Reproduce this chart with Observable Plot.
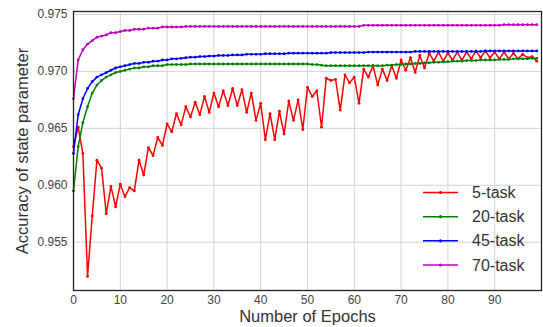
<!DOCTYPE html>
<html>
<head>
<meta charset="utf-8">
<script src="https://cdn.jsdelivr.net/npm/d3@7"></script>
<script src="https://cdn.jsdelivr.net/npm/@observablehq/plot@0.6"></script>
<style>
  html, body { margin: 0; padding: 0; background: #fff; }
  #chart svg { display: block; font-family: "Liberation Sans", Arial, sans-serif; }
</style>
</head>
<body>
<div id="chart"></div>
<script>
const seriesNames = ["5-task", "20-task", "45-task", "70-task"];
const seriesColors = ["#ff0000", "#008000", "#0000ff", "#bf00bf"];
const xTicks = [0, 10, 20, 30, 40, 50, 60, 70, 80, 90];
const yTicks = [0.955, 0.960, 0.965, 0.970, 0.975];

const task5 = [
  0.9634, 0.9651, 0.9628, 0.9520, 0.9573, 0.9622, 0.9615, 0.9575, 0.9599, 0.9581,
  0.9601, 0.9590, 0.9598, 0.9595, 0.9622, 0.9609, 0.9633, 0.9626, 0.9642, 0.9635,
  0.9654, 0.9647, 0.9663, 0.9653, 0.9669, 0.9660, 0.9673, 0.9662, 0.9678, 0.9664,
  0.9681, 0.9669, 0.9683, 0.9670, 0.9685, 0.9670, 0.9684, 0.9664, 0.9681, 0.9657,
  0.9672, 0.9640, 0.9663, 0.9640, 0.9665, 0.9645, 0.9674, 0.9657, 0.9675, 0.9649,
  0.9686, 0.9678, 0.9683, 0.9651, 0.9694, 0.9692, 0.9693, 0.9666, 0.9697, 0.9690,
  0.9695, 0.9672, 0.9702, 0.9695, 0.9705, 0.9688, 0.9702, 0.9692, 0.9705, 0.9694,
  0.9710, 0.9701, 0.9712, 0.9699, 0.9714, 0.9703, 0.9716, 0.9709, 0.9717, 0.9709,
  0.9716, 0.9710, 0.9717, 0.9710, 0.9717, 0.9711, 0.9718, 0.9712, 0.9718, 0.9712,
  0.9717, 0.9711, 0.9717, 0.9711, 0.9716, 0.9711, 0.9715, 0.9712, 0.9713, 0.9709
];
const task20 = [
  0.9595, 0.9634, 0.9655, 0.9669, 0.9681, 0.9688, 0.9692, 0.9695, 0.9697, 0.9699,
  0.9700, 0.9701, 0.9702, 0.9703, 0.9703, 0.9704, 0.9704, 0.9705, 0.9705, 0.9705,
  0.9706, 0.9706, 0.9706, 0.9706, 0.9706, 0.97065, 0.97065, 0.97065, 0.97065, 0.97065,
  0.97065, 0.97065, 0.97065, 0.97065, 0.97065, 0.97065, 0.97065, 0.97065, 0.97065, 0.97065,
  0.97065, 0.97065, 0.97065, 0.97065, 0.97065, 0.97065, 0.97065, 0.97065, 0.97065, 0.97065,
  0.97065, 0.9706, 0.9706, 0.97055, 0.9705, 0.9705, 0.9705, 0.9705, 0.9705, 0.9705,
  0.9705, 0.9705, 0.9705, 0.9705, 0.9705, 0.9705, 0.9705, 0.97055, 0.97055, 0.9706,
  0.9706, 0.97065, 0.97065, 0.9707, 0.9707, 0.97075, 0.97075, 0.9708, 0.9708, 0.97085,
  0.97085, 0.9709, 0.9709, 0.9709, 0.97095, 0.97095, 0.97095, 0.971, 0.971, 0.971,
  0.971, 0.97105, 0.97105, 0.97105, 0.9711, 0.9711, 0.9711, 0.9711, 0.97115, 0.97115
];
const task45 = [
  0.9628, 0.9662, 0.9676, 0.9685, 0.9691, 0.9695, 0.9697, 0.9699, 0.9701, 0.9703,
  0.9704, 0.9705, 0.9706, 0.9707, 0.9707, 0.9708, 0.9708, 0.9709, 0.9709, 0.9710,
  0.9710, 0.9711, 0.9711, 0.97115, 0.9712, 0.97125, 0.97125, 0.9713, 0.9713, 0.97135,
  0.97135, 0.9714, 0.9714, 0.9714, 0.97145, 0.97145, 0.97145, 0.9715, 0.9715, 0.9715,
  0.9715, 0.97155, 0.97155, 0.97155, 0.97155, 0.97155, 0.9716, 0.9716, 0.9716, 0.9716,
  0.9716, 0.9716, 0.9716, 0.9716, 0.9716, 0.97165, 0.97165, 0.97165, 0.97165, 0.97165,
  0.97165, 0.97165, 0.97165, 0.9717, 0.9717, 0.9717, 0.9717, 0.9717, 0.9717, 0.9717,
  0.9717, 0.9717, 0.9717, 0.97175, 0.97175, 0.97175, 0.97175, 0.97175, 0.97175, 0.97175,
  0.97175, 0.97175, 0.97175, 0.97175, 0.97175, 0.97175, 0.97175, 0.97175, 0.9718, 0.9718,
  0.9718, 0.9718, 0.9718, 0.9718, 0.9718, 0.9718, 0.9718, 0.9718, 0.9718, 0.9718
];
const task70 = [
  0.9676, 0.9710, 0.9719, 0.9724, 0.9727, 0.9730, 0.9731, 0.9732, 0.9734, 0.9734,
  0.9735, 0.9736, 0.9736, 0.9737, 0.9737, 0.9737, 0.9738, 0.9738, 0.9738, 0.9739,
  0.9739, 0.9739, 0.9739, 0.9739, 0.97395, 0.97395, 0.97395, 0.97395, 0.97395, 0.97395,
  0.97395, 0.97395, 0.97395, 0.97395, 0.97395, 0.97395, 0.97395, 0.97395, 0.97395, 0.97395,
  0.97395, 0.97395, 0.97395, 0.97395, 0.97395, 0.97395, 0.97395, 0.97395, 0.97395, 0.97395,
  0.97395, 0.97395, 0.97395, 0.97395, 0.97395, 0.97395, 0.97395, 0.97395, 0.97395, 0.97395,
  0.97395, 0.97395, 0.97405, 0.97405, 0.97405, 0.97405, 0.97405, 0.97405, 0.97405, 0.97405,
  0.97405, 0.97405, 0.97405, 0.97405, 0.97405, 0.97405, 0.97405, 0.97405, 0.97405, 0.97405,
  0.97405, 0.97405, 0.97405, 0.97405, 0.97405, 0.97405, 0.97405, 0.97405, 0.97405, 0.97405,
  0.97405, 0.97405, 0.9741, 0.9741, 0.9741, 0.9741, 0.9741, 0.9741, 0.9741, 0.9741
];

const allSeries = [task5, task20, task45, task70];
const rows = [];
allSeries.forEach((vals, si) => {
  vals.forEach((v, i) => rows.push({epoch: i, value: v, series: seriesNames[si]}));
});

const font = '"Liberation Sans", Arial, sans-serif';
const marks = [
  Plot.gridX(xTicks, {stroke: "#d4d4d4", strokeOpacity: 1, strokeWidth: 1}),
  Plot.gridY(yTicks, {stroke: "#d4d4d4", strokeOpacity: 1, strokeWidth: 1}),
  Plot.axisX(xTicks, {tickSize: 0, tickPadding: 5, fontSize: 12, fill: "#444", label: null}),
  Plot.axisY(yTicks, {tickSize: 0, tickPadding: 6, fontSize: 12, fill: "#444", label: null, tickFormat: d3.format(".3f")}),
  Plot.text(["Number of Epochs"], {frameAnchor: "bottom", dy: 26, fontSize: 16.5, fill: "#333", lineAnchor: "middle", textAnchor: "middle"}),
  Plot.text(["Accuracy of state parameter"], {frameAnchor: "left", dx: -51, rotate: -90, fontSize: 16.5, fill: "#333", textAnchor: "middle", lineAnchor: "middle"})
];
seriesNames.forEach((name, si) => {
  const d = rows.filter(r => r.series === name);
  marks.push(Plot.line(d, {x: "epoch", y: "value", stroke: seriesColors[si], strokeWidth: 1.5}));
  marks.push(Plot.dot(d, {x: "epoch", y: "value", fill: seriesColors[si], r: 1.4, stroke: "none"}));
});
marks.push(Plot.frame({stroke: "#222", strokeWidth: 1.3}));

const chart = Plot.plot({
  width: 543,
  height: 327,
  marginLeft: 73,
  marginRight: 2,
  marginTop: 11,
  marginBottom: 37,
  style: {fontFamily: font, background: "#fff"},
  x: {domain: [0, 100]},
  y: {domain: [0.95076, 0.97526]},
  marks
});

// legend (no frame), drawn into the same svg
const svg = d3.select(chart);
const lg = svg.append("g").attr("font-family", font).attr("text-anchor", "start");
const rowY = [192.5, 216.7, 240.8, 265];
seriesNames.forEach((name, i) => {
  lg.append("line").attr("x1", 423).attr("x2", 458).attr("y1", rowY[i]).attr("y2", rowY[i])
    .attr("stroke", seriesColors[i]).attr("stroke-width", 1.5);
  lg.append("circle").attr("cx", 440.5).attr("cy", rowY[i]).attr("r", 1.6).attr("fill", seriesColors[i]);
  lg.append("text").attr("x", 472).attr("y", rowY[i]).attr("dy", "0.35em")
    .attr("text-anchor", "start").attr("font-size", 16).attr("fill", "#333").text(name);
});

document.getElementById("chart").appendChild(chart);
</script>
</body>
</html>
